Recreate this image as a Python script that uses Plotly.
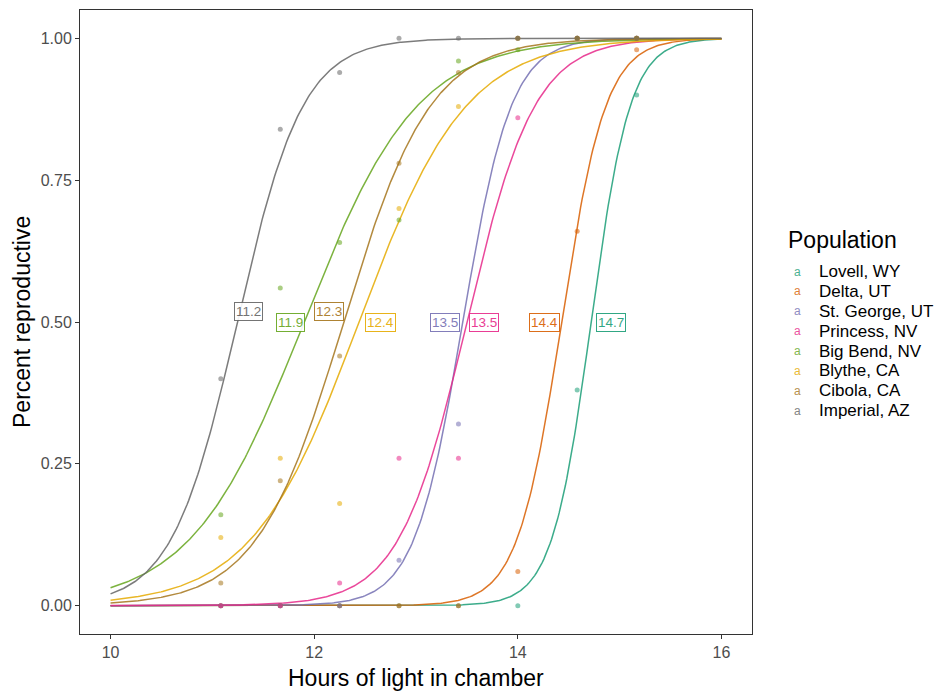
import numpy as np
import plotly.graph_objects as go

# ---------------- data ----------------
hours = [11.083, 11.667, 12.25, 12.833, 13.417, 14.0, 14.583, 15.167]
populations = ["Lovell, WY", "Delta, UT", "St. George, UT", "Princess, NV",
               "Big Bend, NV", "Blythe, CA", "Cibola, CA", "Imperial, AZ"]
colors = ["#1B9E77", "#D95F02", "#7570B3", "#E7298A",
          "#66A61E", "#E6AB02", "#A6761D", "#666666"]

lovell   = [0.00, 0.00, 0.00, 0.00, 0.00, 0.00, 0.38, 0.90]
delta    = [0.00, 0.00, 0.00, 0.00, 0.00, 0.06, 0.66, 0.98]
stgeorge = [0.00, 0.00, 0.00, 0.08, 0.32, 1.00, 1.00, 1.00]
princess = [0.00, 0.00, 0.04, 0.26, 0.26, 0.86, 1.00, 1.00]
bigbend  = [0.16, 0.56, 0.64, 0.68, 0.96, 0.98, 1.00, 1.00]
blythe   = [0.12, 0.26, 0.18, 0.70, 0.88, 1.00, 1.00, 1.00]
cibola   = [0.04, 0.22, 0.44, 0.78, 0.94, 1.00, 1.00, 1.00]
imperial = [0.40, 0.84, 0.94, 1.00, 1.00, 1.00, 1.00, 1.00]
proportions = [lovell, delta, stgeorge, princess, bigbend, blythe, cibola, imperial]

# fitted logistic model parameters
ld50  = [14.72, 14.43, 13.46, 13.50, 11.90, 12.44, 12.29, 11.245]
slope = [5.2, 4.6, 4.2, 3.0, 1.8, 1.9, 2.35, 3.1]

# label centres (repelled positions)
label_x = [14.915, 14.265, 13.284, 13.67, 11.765, 12.65, 12.145, 11.35]
label_y = [0.499, 0.499, 0.499, 0.499, 0.499, 0.499, 0.519, 0.519]

xgrid = np.linspace(10, 16, 400)
FONT = "Liberation Sans, Arial, sans-serif"

fig = go.Figure()
for pop, col, y, m, k in zip(populations, colors, proportions, ld50, slope):
    pred = 1.0 / (1.0 + np.exp(-k * (xgrid - m)))
    fig.add_trace(go.Scatter(x=xgrid, y=pred, mode="lines",
                             line=dict(color=col, width=1.5), opacity=0.85,
                             showlegend=False, hoverinfo="skip"))
for pop, col, y in zip(populations, colors, proportions):
    fig.add_trace(go.Scatter(x=hours, y=y, mode="markers", name=pop,
                             marker=dict(color=col, size=5, opacity=0.55),
                             showlegend=False))

annotations = []
for col, m, lx, ly in zip(colors, ld50, label_x, label_y):
    annotations.append(dict(x=lx, y=ly, xref="x", yref="y", text=f"{m:.1f}",
                            showarrow=False, font=dict(family=FONT, size=13.5, color=col),
                            bgcolor="white", bordercolor=col, borderwidth=1, borderpad=1,
                            opacity=0.9))

# axis titles
annotations.append(dict(x=0.5, y=(634 - 678) / 624, xref="paper", yref="paper",
                        text="Hours of light in chamber", showarrow=False,
                        font=dict(family=FONT, size=23, color="black"),
                        xanchor="center", yanchor="middle"))
annotations.append(dict(x=(22 - 80) / 672, y=0.5, xref="paper", yref="paper",
                        text="Percent reproductive", showarrow=False, textangle=-90,
                        font=dict(family=FONT, size=23, color="black"),
                        xanchor="center", yanchor="middle"))

# legend (manual, ggplot-style "a" keys)
annotations.append(dict(x=(786 - 80) / 672, y=(634 - 240) / 624, xref="paper", yref="paper",
                        text="Population", showarrow=False, xanchor="left", yanchor="middle",
                        font=dict(family=FONT, size=23, color="black")))
for i, (pop, col) in enumerate(zip(populations, colors)):
    py = 271.5 + i * 19.9
    annotations.append(dict(x=(797 - 80) / 672, y=(634 - py) / 624, xref="paper", yref="paper",
                            text="a", showarrow=False, xanchor="center", yanchor="middle",
                            font=dict(family=FONT, size=12, color=col), opacity=0.8))
    annotations.append(dict(x=(817 - 80) / 672, y=(634 - py) / 624, xref="paper", yref="paper",
                            text=pop, showarrow=False, xanchor="left", yanchor="middle",
                            font=dict(family=FONT, size=17, color="black")))

axis_common = dict(showline=True, linecolor="#333333", linewidth=1, mirror=True,
                   ticks="outside", ticklen=4, tickcolor="#333333", tickwidth=1,
                   showgrid=False, zeroline=False,
                   tickfont=dict(family=FONT, size=16, color="#4D4D4D"))

fig.update_layout(
    width=936, height=692,
    margin=dict(l=80, r=184, t=10, b=58),
    paper_bgcolor="white", plot_bgcolor="white",
    xaxis=dict(range=[9.7, 16.3], tickvals=[10, 12, 14, 16], **axis_common),
    yaxis=dict(range=[-0.05, 1.05], tickvals=[0, 0.25, 0.5, 0.75, 1.0],
               ticktext=["0.00", "0.25", "0.50", "0.75", "1.00"], **axis_common),
    annotations=annotations,
    showlegend=False,
)

fig.write_html("out.html")
